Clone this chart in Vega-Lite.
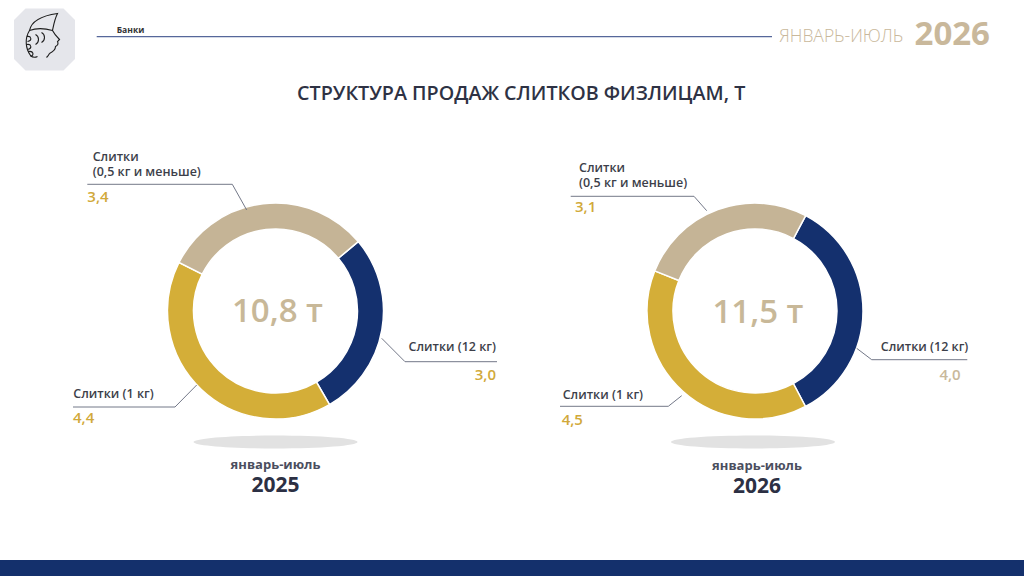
{
  "$schema": "https://vega.github.io/schema/vega-lite/v6.json",
  "background": "white",
  "padding": 0,
  "config": {
    "view": {"stroke": null},
    "font": "Open Sans",
    "locale": {
      "number": {"decimal": ",", "thousands": " ", "grouping": [3], "currency": ["", " т"]}
    }
  },
  "datasets": {
    "segments": [
      {"period": "2025", "segment": "Слитки (12 кг)", "value": 3.0},
      {"period": "2025", "segment": "Слитки (1 кг)", "value": 4.4},
      {"period": "2025", "segment": "Слитки\n(0,5 кг и меньше)", "value": 3.4},
      {"period": "2026", "segment": "Слитки (12 кг)", "value": 4.0},
      {"period": "2026", "segment": "Слитки (1 кг)", "value": 4.5},
      {"period": "2026", "segment": "Слитки\n(0,5 кг и меньше)", "value": 3.1}
    ],
    "totals": [
      {"period": "2025", "caption": "январь-июль", "total": 10.8},
      {"period": "2026", "caption": "январь-июль", "total": 11.5}
    ]
  },
  "vconcat": [
    {
      "width": 1024,
      "height": 61,
      "data": {"values": [{}]},
      "layer": [
        {
          "mark": {"type": "point", "shape": "M-512,529.5 L512,529.5 L512,545.5 L-512,545.5 Z", "size": 4, "filled": true, "color": "#14306c", "opacity": 1, "strokeWidth": 0},
          "encoding": {}
        },
        {
          "mark": {"type": "point", "shape": "M-19,-31 L19,-31 L30.5,-19.5 L30.5,19.5 L19,31 L-19,31 L-30.5,19.5 L-30.5,-19.5 Z", "size": 4, "filled": true, "color": "#e5e6eb", "opacity": 1, "strokeWidth": 0, "xOffset": -467.5, "yOffset": 9},
          "encoding": {}
        },
        {
          "mark": {"type": "point", "shape": "M-15,-9 C-13,-19 -1,-24 13,-26 C10,-20 9,-14 8,-9 M-15,-9 C-7,-12 1,-11 8,-9 M8,-9 C10,-5 12,-3 15,0 L13,2 C14,4 13,6 11,7 C11,10 9,12 5,14 M5,14 C4,16 3,17 2,18 M-15,-9 C-20,-1 -19,9 -14,16 C-12,18 -9,18 -7,17 M-18,-3 C-13,-4 -12,1 -17,2 M-18,5 C-13,4 -12,9 -17,10 M-16,12 C-11,11 -10,16 -14,17 M-9,-5 C-5,-3 -5,3 -9,5 M-3,-7 C1,-5 1,1 -3,3", "size": 4, "filled": false, "color": "#1e1e1e", "opacity": 1, "strokeWidth": 1.1, "xOffset": -467.5, "yOffset": 9},
          "encoding": {}
        },
        {
          "mark": {"type": "point", "shape": "M-415.3,6.2 L260,6.2", "size": 4, "filled": false, "color": "#56679a", "opacity": 1, "strokeWidth": 1.2},
          "encoding": {}
        },
        {
          "mark": {"type": "text", "align": "left", "baseline": "alphabetic", "dx": -395.3, "dy": 2.2, "fontSize": 8.5, "fontWeight": 700, "color": "#333333"},
          "encoding": {"text": {"value": "Банки"}}
        },
        {
          "mark": {"type": "text", "align": "left", "baseline": "alphabetic", "dx": 267.3, "dy": 11.2, "fontSize": 17.5, "fontWeight": 300, "color": "#c9b89b"},
          "encoding": {"text": {"value": "ЯНВАРЬ-ИЮЛЬ"}}
        },
        {
          "mark": {"type": "text", "align": "right", "baseline": "alphabetic", "dx": 478, "dy": 14.5, "fontSize": 33, "fontWeight": 700, "color": "#c9b89b"},
          "encoding": {"text": {"value": "2026"}}
        },
        {
          "mark": {"type": "text", "align": "center", "baseline": "alphabetic", "dx": 9.2, "dy": 69.5, "fontSize": 19.7, "fontWeight": 600, "color": "#2e3244"},
          "encoding": {"text": {"value": "СТРУКТУРА ПРОДАЖ СЛИТКОВ ФИЗЛИЦАМ, Т"}}
        }
      ]
    },
    {
      "hconcat": [
        {
          "width": 551,
          "height": 382,
          "layer": [
            {
              "data": {"name": "totals"},
              "transform": [{"filter": "datum.period == '2025'"}],
              "mark": {"type": "point", "shape": "M-82,131 A82,6.5 0 1,0 82,131 A82,6.5 0 1,0 -82,131 Z", "size": 4, "filled": true, "color": "#e2e2e2", "opacity": 1, "strokeWidth": 0},
              "encoding": {}
            },
            {
              "data": {"name": "segments"},
              "transform": [{"filter": "datum.period == '2025'"}],
              "mark": {"type": "arc", "innerRadius": 82, "outerRadius": 108, "stroke": "white", "strokeWidth": 1.5},
              "encoding": {
                "theta": {"field": "value", "type": "quantitative", "stack": true, "scale": {"range": [0.8727, 7.1559]}},
                "color": {"field": "segment", "type": "nominal", "scale": {"domain": ["Слитки (12 кг)", "Слитки (1 кг)", "Слитки\n(0,5 кг и меньше)"], "range": ["#14306e", "#d4ae38", "#c5b496"]}, "legend": null},
                "order": {"field": "segment", "sort": "descending"}
              }
            },
            {
              "data": {"name": "totals"},
              "transform": [{"filter": "datum.period == '2025'"}],
              "mark": {"type": "point", "shape": "M-28.8,-101 L-43.2,-126.7 L-188.2,-126.7 M106.2,27.3 L129.5,50.7 L221.5,50.7 M-78.8,74 L-100.5,96 L-202.5,96", "size": 4, "filled": false, "color": "#737888", "opacity": 1, "strokeWidth": 1},
              "encoding": {}
            },
            {
              "data": {"name": "totals"},
              "transform": [{"filter": "datum.period == '2025'"}],
              "mark": {"type": "text", "baseline": "alphabetic", "dx": 2, "dy": 11, "fontSize": 33, "fontWeight": 600, "color": "#c8b898"},
              "encoding": {"text": {"field": "total", "type": "quantitative", "format": "$.1f"}}
            },
            {
              "data": {"name": "totals"},
              "transform": [{"filter": "datum.period == '2025'"}],
              "mark": {"type": "text", "baseline": "alphabetic", "dy": 157.5, "fontSize": 13, "fontWeight": 700, "color": "#4b4e5e"},
              "encoding": {"text": {"field": "caption", "type": "nominal"}}
            },
            {
              "data": {"name": "totals"},
              "transform": [{"filter": "datum.period == '2025'"}],
              "mark": {"type": "text", "baseline": "alphabetic", "dy": 181, "fontSize": 21, "fontWeight": 700, "color": "#2c3044"},
              "encoding": {"text": {"field": "period", "type": "nominal"}}
            },
            {
              "data": {"name": "segments"},
              "transform": [{"filter": "datum.period == '2025' && datum.segment == 'Слитки\\n(0,5 кг и меньше)'"}],
              "mark": {"type": "text", "align": "left", "baseline": "alphabetic", "lineBreak": "\n", "lineHeight": 15, "dx": -182.8, "dy": -150.5, "fontSize": 12.5, "fontWeight": 600, "color": "#3d3f4a"},
              "encoding": {"text": {"field": "segment", "type": "nominal"}}
            },
            {
              "data": {"name": "segments"},
              "transform": [{"filter": "datum.period == '2025' && datum.segment == 'Слитки\\n(0,5 кг и меньше)'"}],
              "mark": {"type": "text", "align": "left", "baseline": "alphabetic", "dx": -188.2, "dy": -109, "fontSize": 15, "fontWeight": 600, "color": "#d1a93a"},
              "encoding": {"text": {"field": "value", "type": "quantitative", "format": ".1f"}}
            },
            {
              "data": {"name": "segments"},
              "transform": [{"filter": "datum.period == '2025' && datum.segment == 'Слитки (12 кг)'"}],
              "mark": {"type": "text", "align": "right", "baseline": "alphabetic", "dx": 220.5, "dy": 40, "fontSize": 12.5, "fontWeight": 600, "color": "#3d3f4a"},
              "encoding": {"text": {"field": "segment", "type": "nominal"}}
            },
            {
              "data": {"name": "segments"},
              "transform": [{"filter": "datum.period == '2025' && datum.segment == 'Слитки (12 кг)'"}],
              "mark": {"type": "text", "align": "right", "baseline": "alphabetic", "dx": 220.5, "dy": 69, "fontSize": 15, "fontWeight": 600, "color": "#d1a93a"},
              "encoding": {"text": {"field": "value", "type": "quantitative", "format": ".1f"}}
            },
            {
              "data": {"name": "segments"},
              "transform": [{"filter": "datum.period == '2025' && datum.segment == 'Слитки (1 кг)'"}],
              "mark": {"type": "text", "align": "left", "baseline": "alphabetic", "dx": -202.2, "dy": 87, "fontSize": 12.5, "fontWeight": 600, "color": "#3d3f4a"},
              "encoding": {"text": {"field": "segment", "type": "nominal"}}
            },
            {
              "data": {"name": "segments"},
              "transform": [{"filter": "datum.period == '2025' && datum.segment == 'Слитки (1 кг)'"}],
              "mark": {"type": "text", "align": "left", "baseline": "alphabetic", "dx": -202.5, "dy": 112, "fontSize": 15, "fontWeight": 600, "color": "#d1a93a"},
              "encoding": {"text": {"field": "value", "type": "quantitative", "format": ".1f"}}
            }
          ]
        },
        {
          "width": 408,
          "height": 382,
          "layer": [
            {
              "data": {"name": "totals"},
              "transform": [{"filter": "datum.period == '2026'"}],
              "mark": {"type": "point", "shape": "M-84,131 A82,6.5 0 1,0 80,131 A82,6.5 0 1,0 -84,131 Z", "size": 4, "filled": true, "color": "#e2e2e2", "opacity": 1, "strokeWidth": 0},
              "encoding": {}
            },
            {
              "data": {"name": "segments"},
              "transform": [{"filter": "datum.period == '2026'"}],
              "mark": {"type": "arc", "innerRadius": 82, "outerRadius": 108, "stroke": "white", "strokeWidth": 1.5},
              "encoding": {
                "theta": {"field": "value", "type": "quantitative", "stack": true, "scale": {"range": [0.4887, 6.7719]}},
                "color": {"field": "segment", "type": "nominal", "scale": {"domain": ["Слитки (12 кг)", "Слитки (1 кг)", "Слитки\n(0,5 кг и меньше)"], "range": ["#14306e", "#d4ae38", "#c5b496"]}, "legend": null},
                "order": {"field": "segment", "sort": "descending"}
              }
            },
            {
              "data": {"name": "totals"},
              "transform": [{"filter": "datum.period == '2026'"}],
              "mark": {"type": "point", "shape": "M-48.3,-100.3 L-61,-114.7 L-184.3,-114.7 M101.7,37.3 L116.7,48.7 L212.3,48.7 M-73.3,84.7 L-86.7,95.3 L-195,95.3", "size": 4, "filled": false, "color": "#737888", "opacity": 1, "strokeWidth": 1},
              "encoding": {}
            },
            {
              "data": {"name": "totals"},
              "transform": [{"filter": "datum.period == '2026'"}],
              "mark": {"type": "text", "baseline": "alphabetic", "dx": 3, "dy": 11.5, "fontSize": 33, "fontWeight": 600, "color": "#c8b898"},
              "encoding": {"text": {"field": "total", "type": "quantitative", "format": "$.1f"}}
            },
            {
              "data": {"name": "totals"},
              "transform": [{"filter": "datum.period == '2026'"}],
              "mark": {"type": "text", "baseline": "alphabetic", "dx": 2, "dy": 158.5, "fontSize": 13, "fontWeight": 700, "color": "#4b4e5e"},
              "encoding": {"text": {"field": "caption", "type": "nominal"}}
            },
            {
              "data": {"name": "totals"},
              "transform": [{"filter": "datum.period == '2026'"}],
              "mark": {"type": "text", "baseline": "alphabetic", "dx": 2, "dy": 182, "fontSize": 21, "fontWeight": 700, "color": "#2c3044"},
              "encoding": {"text": {"field": "period", "type": "nominal"}}
            },
            {
              "data": {"name": "segments"},
              "transform": [{"filter": "datum.period == '2026' && datum.segment == 'Слитки\\n(0,5 кг и меньше)'"}],
              "mark": {"type": "text", "align": "left", "baseline": "alphabetic", "lineBreak": "\n", "lineHeight": 15, "dx": -176, "dy": -139, "fontSize": 12.5, "fontWeight": 600, "color": "#3d3f4a"},
              "encoding": {"text": {"field": "segment", "type": "nominal"}}
            },
            {
              "data": {"name": "segments"},
              "transform": [{"filter": "datum.period == '2026' && datum.segment == 'Слитки\\n(0,5 кг и меньше)'"}],
              "mark": {"type": "text", "align": "left", "baseline": "alphabetic", "dx": -180, "dy": -99.5, "fontSize": 15, "fontWeight": 600, "color": "#d1a93a"},
              "encoding": {"text": {"field": "value", "type": "quantitative", "format": ".1f"}}
            },
            {
              "data": {"name": "segments"},
              "transform": [{"filter": "datum.period == '2026' && datum.segment == 'Слитки (12 кг)'"}],
              "mark": {"type": "text", "align": "right", "baseline": "alphabetic", "dx": 213.3, "dy": 40, "fontSize": 12.5, "fontWeight": 600, "color": "#3d3f4a"},
              "encoding": {"text": {"field": "segment", "type": "nominal"}}
            },
            {
              "data": {"name": "segments"},
              "transform": [{"filter": "datum.period == '2026' && datum.segment == 'Слитки (12 кг)'"}],
              "mark": {"type": "text", "align": "right", "baseline": "alphabetic", "dx": 205.7, "dy": 69, "fontSize": 15, "fontWeight": 600, "color": "#c9b89b"},
              "encoding": {"text": {"field": "value", "type": "quantitative", "format": ".1f"}}
            },
            {
              "data": {"name": "segments"},
              "transform": [{"filter": "datum.period == '2026' && datum.segment == 'Слитки (1 кг)'"}],
              "mark": {"type": "text", "align": "left", "baseline": "alphabetic", "dx": -192.3, "dy": 88, "fontSize": 12.5, "fontWeight": 600, "color": "#3d3f4a"},
              "encoding": {"text": {"field": "segment", "type": "nominal"}}
            },
            {
              "data": {"name": "segments"},
              "transform": [{"filter": "datum.period == '2026' && datum.segment == 'Слитки (1 кг)'"}],
              "mark": {"type": "text", "align": "left", "baseline": "alphabetic", "dx": -193.3, "dy": 114, "fontSize": 15, "fontWeight": 600, "color": "#d1a93a"},
              "encoding": {"text": {"field": "value", "type": "quantitative", "format": ".1f"}}
            }
          ]
        }
      ],
      "spacing": 0,
      "bounds": "flush",
      "resolve": {"scale": {"theta": "independent"}}
    }
  ],
  "spacing": 59,
  "bounds": "flush"
}
